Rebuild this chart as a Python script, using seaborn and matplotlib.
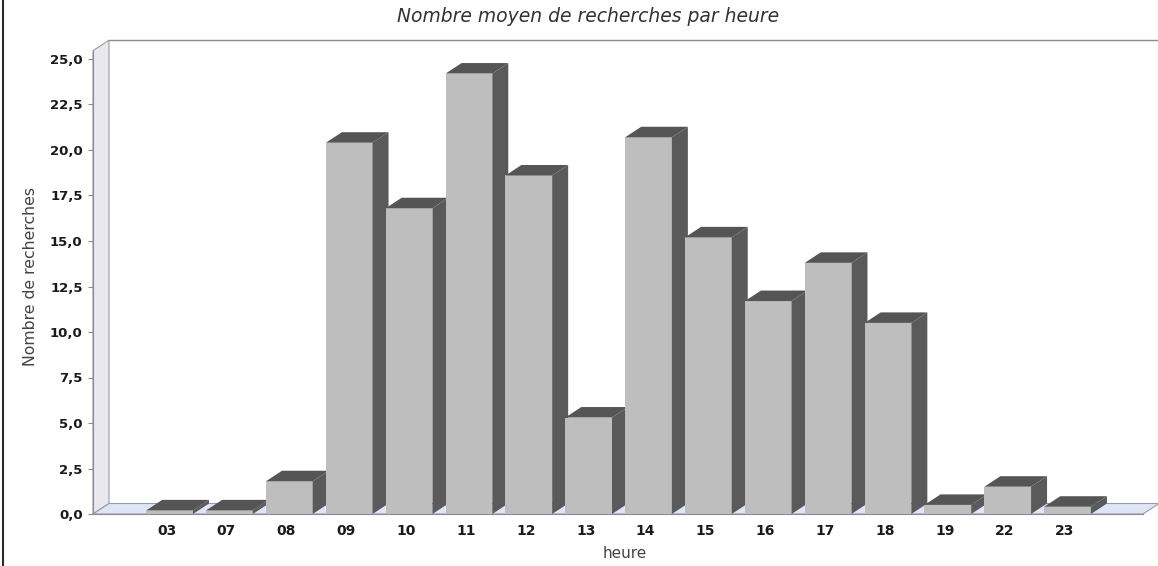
import matplotlib
matplotlib.use("Agg")
import matplotlib.pyplot as plt
import matplotlib.transforms as mtransforms
from matplotlib.patches import Polygon
from matplotlib.lines import Line2D
import pandas as pd
import seaborn as sns

# Average number of searches for each hour of the day
heures = ["03", "07", "08", "09", "10", "11", "12", "13",
          "14", "15", "16", "17", "18", "19", "22", "23"]
moyennes = [0.2, 0.2, 1.8, 20.4, 16.8, 24.2, 18.6, 5.3,
            20.7, 15.2, 11.7, 13.8, 10.5, 0.5, 1.5, 0.4]

y_ticks = [0.0, 2.5, 5.0, 7.5, 10.0, 12.5, 15.0, 17.5, 20.0, 22.5, 25.0]
y_tick_labels = ["0,0", "2,5", "5,0", "7,5", "10,0", "12,5",
                 "15,0", "17,5", "20,0", "22,5", "25,0"]

titre = "Nombre moyen de recherches par heure"
label_x = "heure"
label_y = "Nombre de recherches"

sns.set_theme(style="white")
plt.rcParams["font.family"] = ["DejaVu Sans"]

W, H = 1158, 566
fig = plt.figure(figsize=(W / 100, H / 100), dpi=100)
fig.patch.set_facecolor("white")

# front plane of the 3D plot, in pixels
left_px, right_px, top_px, bottom_px = 93, 1143, 50.7, 514
px_per_unit_y = 18.2
ax = fig.add_axes([left_px / W, (H - bottom_px) / H,
                   (right_px - left_px) / W, (bottom_px - top_px) / H])
ax.set_facecolor("none")

df = pd.DataFrame({"heure": heures, "moyenne": moyennes})
sns.barplot(data=df, x="heure", y="moyenne", color="#bebebe", saturation=1,
            width=0.78, edgecolor="none", ax=ax)
bars = list(ax.patches)

xmin, xmax = -1.28, 16.26
ymax = (bottom_px - top_px) / px_per_unit_y
ax.set_xlim(xmin, xmax)
ax.set_ylim(0, ymax)

# depth offsets of the 3D effect, converted to data units
dx = 16 * (xmax - xmin) / (right_px - left_px)
dy = 10.5 / px_per_unit_y

# left wall and floor
wall = Polygon([(xmin, 0), (xmin + dx, dy), (xmin + dx, ymax + dy), (xmin, ymax)],
               closed=True, facecolor="#e8e8ee", edgecolor="#9a9aa8", lw=0.8,
               clip_on=False, zorder=0.5)
floor = Polygon([(xmin, 0), (xmin + dx, dy), (xmax + dx, dy), (xmax, 0)],
                closed=True, facecolor="#dde5f6", edgecolor="#9a9aa8", lw=0.8,
                clip_on=False, zorder=0.6)
ax.add_patch(wall)
ax.add_patch(floor)
ax.add_line(Line2D([xmin + dx, xmax + 2 * dx], [ymax + dy, ymax + dy],
                   color="#8a8a98", lw=1.0, clip_on=False, zorder=0.7))

# side and top faces of each bar
for i, p in enumerate(bars):
    x0 = p.get_x()
    x1 = x0 + p.get_width()
    h = p.get_height()
    z = 2 + 3 * i
    p.set_zorder(z)
    side = Polygon([(x1, 0), (x1 + dx, dy), (x1 + dx, h + dy), (x1, h)],
                   closed=True, facecolor="#5a5a5a", edgecolor="none",
                   clip_on=False, zorder=z + 1)
    top = Polygon([(x0, h), (x1, h), (x1 + dx, h + dy), (x0 + dx, h + dy)],
                  closed=True, facecolor="#555555", edgecolor="none",
                  clip_on=False, zorder=z + 2)
    ax.add_patch(side)
    ax.add_patch(top)

for s in ("top", "right"):
    ax.spines[s].set_visible(False)
for s in ("left", "bottom"):
    ax.spines[s].set_color("#8a8a98")
    ax.spines[s].set_linewidth(0.8)
    ax.spines[s].set_zorder(1)

ax.set_yticks(y_ticks, labels=y_tick_labels, fontweight="bold", fontsize=9.5,
              color="#1a1a1a")
ax.set_xticks(range(len(heures)), labels=heures, fontweight="bold", fontsize=10,
              color="#1a1a1a")
ax.tick_params(axis="y", left=True, length=3.5, width=0.8, color="#8a8a98",
               direction="out", pad=4)
ax.tick_params(axis="x", bottom=False, length=0, pad=7)
ax.set_xlabel("")
ax.set_ylabel("")

shift = mtransforms.ScaledTranslation(-3 / 100, 0, fig.dpi_scale_trans)
for lbl in ax.get_xticklabels():
    lbl.set_transform(lbl.get_transform() + shift)

fig.text(588 / W, 1 - 16 / H, titre, ha="center", va="center",
         fontsize=13.5, style="italic", color="#333333")
fig.text(31 / W, 1 - 277 / H, label_y, ha="center", va="center",
         rotation=90, fontsize=11.3, color="#444444")
fig.text(625 / W, 1 - 553 / H, label_x, ha="center", va="center",
         fontsize=11, color="#444444")

fig.add_artist(Line2D([2.5 / W, 2.5 / W], [0, 1], transform=fig.transFigure,
                      color="#2a2a2a", lw=1.5))

fig.savefig("out.png", dpi=100, facecolor="white")
